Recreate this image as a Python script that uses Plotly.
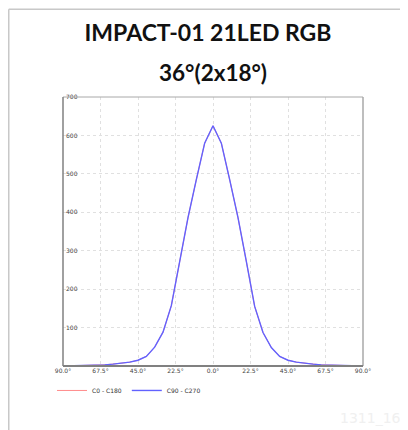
import plotly.graph_objects as go

# ---- data ----
angles = [-90, -85, -80, -75, -70, -65, -60, -55, -50, -45, -40, -35, -30, -25, -20, -15, -10, -5,
          0, 5, 10, 15, 20, 25, 30, 35, 40, 45, 50, 55, 60, 65, 70, 75, 80, 85, 90]
c0_c180 = [0, 0.5, 1, 1.5, 2, 3, 5, 7, 10, 15, 25, 49, 88, 157, 272, 386, 485, 580,
           625, 580, 485, 386, 272, 155, 87, 48, 25, 15, 10, 7, 5, 3, 2, 1.5, 1, 0.5, 0]
c90_c270 = [0, 0.5, 1, 1.5, 2, 3, 5, 7, 10, 15, 25, 49, 88, 157, 272, 386, 485, 580,
            625, 580, 485, 386, 272, 155, 87, 48, 25, 15, 10, 7, 5, 3, 2, 1.5, 1, 0.5, 0]
x_tickvals = [-90, -67.5, -45, -22.5, 0, 22.5, 45, 67.5, 90]
x_ticktext = ["90.0°", "67.5°", "45.0°", "22.5°", "0.0°", "22.5°", "45.0°", "67.5°", "90.0°"]
y_tickvals = [100, 200, 300, 400, 500, 600, 700]
title_line1 = "IMPACT-01 21LED RGB"
title_line2 = "36°(2x18°)"
series_names = ["C0 - C180", "C90 - C270"]

# page body has an 8px margin, so the figure starts at window (8, 8)
OFF = 8
W, H = 408 - OFF, 430 - OFF
L, T = 63 - OFF, 97 - OFF
R = W - (363 - OFF)
B = H - (366.5 - OFF)
pw, ph = W - L - R, H - T - B


def px_x(p):  # window pixel -> paper x
    return (p - OFF - L) / pw


def px_y(p):  # window pixel -> paper y
    return (H - B - (p - OFF)) / ph


fig = go.Figure()
fig.add_trace(go.Scatter(x=angles, y=c0_c180, mode="lines", name=series_names[0],
                         line=dict(color="#ff8c8c", width=1.0)))
fig.add_trace(go.Scatter(x=angles, y=c90_c270, mode="lines", name=series_names[1],
                         line=dict(color="#6262ff", width=1.4)))

fig.update_layout(
    width=W, height=H,
    margin=dict(l=L, r=R, t=T, b=B, autoexpand=False),
    paper_bgcolor="white", plot_bgcolor="white",
    font=dict(family="DejaVu Sans", size=6, color="#333"),
    title=dict(text=title_line1, x=0.5, xanchor="center", y=1 - (33 - OFF) / H, yanchor="middle",
               font=dict(family="Lato", size=23, color="#111", weight="bold")),
    showlegend=True,
    legend=dict(orientation="h", x=px_x(52), xanchor="left", y=px_y(391), yanchor="middle",
                font=dict(family="DejaVu Sans", size=6, color="#333"),
                bgcolor="rgba(0,0,0,0)", itemwidth=30),
    xaxis=dict(range=[-90, 90], tickvals=x_tickvals, ticktext=x_ticktext,
               showgrid=True, gridcolor="#e0e0e0", griddash="dot", gridwidth=1,
               zeroline=False, showline=False, ticks="", ticklen=0, ticklabeloverflow="allow",
               tickfont=dict(family="DejaVu Sans", size=6, color="#444")),
    yaxis=dict(range=[0, 700], tickvals=y_tickvals,
               showgrid=True, gridcolor="#e0e0e0", griddash="dot", gridwidth=1,
               zeroline=False, showline=False, ticks="", ticklabelposition="inside",
               ticklabeloverflow="allow",
               tickfont=dict(family="DejaVu Sans", size=6, color="#444")),
    annotations=[dict(text=title_line2, x=0.5, xref="paper", xanchor="center",
                      y=px_y(72), yref="paper", yanchor="middle", showarrow=False,
                      font=dict(family="Lato", size=22.5, color="#111", weight="bold")),
                 dict(text="1311_16", x=px_x(370), xref="paper", xanchor="center",
                      y=px_y(419), yref="paper", yanchor="middle", showarrow=False,
                      font=dict(family="DejaVu Sans", size=14, color="#f0f0f0"))],
    shapes=[
        # card border
        dict(type="line", xref="paper", yref="paper", x0=px_x(8.75), x1=px_x(420), y0=px_y(9), y1=px_y(9),
             line=dict(color="#c8c8c8", width=1.5)),
        dict(type="line", xref="paper", yref="paper", x0=px_x(8.75), x1=px_x(8.75), y0=px_y(9), y1=px_y(440),
             line=dict(color="#c8c8c8", width=1.5)),
        # plot frame
        dict(type="line", xref="paper", yref="paper", x0=0, x1=1, y0=1, y1=1,
             line=dict(color="#a8a8a8", width=1)),
        dict(type="line", xref="paper", yref="paper", x0=1, x1=1, y0=0, y1=1,
             line=dict(color="#a8a8a8", width=1.5)),
        dict(type="line", xref="paper", yref="paper", x0=0, x1=0, y0=0, y1=1,
             line=dict(color="#808080", width=1.5)),
        dict(type="line", xref="paper", yref="paper", x0=0, x1=1, y0=0, y1=0,
             line=dict(color="#808080", width=2)),
    ],
)

fig.write_html("out.html")
